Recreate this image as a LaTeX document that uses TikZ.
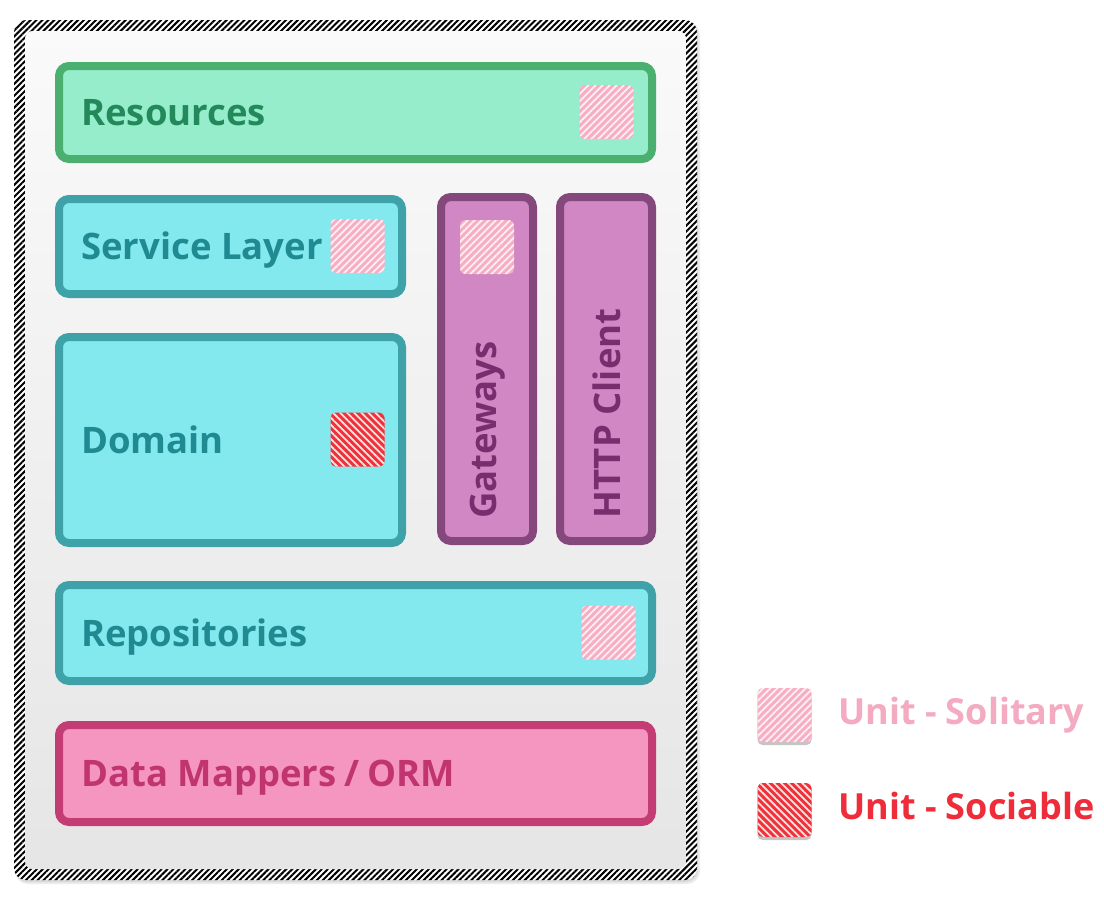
\documentclass[tikz,border=0pt]{standalone}
\usepackage{fontspec}
\setmainfont{Open Sans}
\usetikzlibrary{patterns.meta,shadows}
\definecolor{grnB}{HTML}{4AAF6F}
\definecolor{grnF}{HTML}{96EDCB}
\definecolor{grnT}{HTML}{23895A}
\definecolor{tealB}{HTML}{3FA2A8}
\definecolor{tealF}{HTML}{84E9EF}
\definecolor{tealT}{HTML}{1F8A91}
\definecolor{purB}{HTML}{85487D}
\definecolor{purF}{HTML}{D087C3}
\definecolor{purT}{HTML}{7A2D6E}
\definecolor{pnkB}{HTML}{C33D74}
\definecolor{pnkF}{HTML}{F496C0}
\definecolor{pnkT}{HTML}{C0356F}
\definecolor{solC}{HTML}{F7AEC4}
\definecolor{solT}{HTML}{F4ABC2}
\definecolor{socC}{HTML}{EE3239}
\definecolor{socT}{HTML}{EE2C3A}
\tikzset{
  layerbox/.style={draw=#1B, fill=#1F, line width=8pt, rounded corners=10pt, inner sep=0pt},
  lbl/.style={text=#1T, inner sep=0pt, anchor=base west, font=\fontsize{36.5}{40}\selectfont\bfseries},
  vlbl/.style={text=#1T, inner sep=0pt, anchor=west, rotate=90, font=\fontsize{36.5}{40}\selectfont\bfseries},
  solsq/.style={minimum size=54pt, inner sep=0pt, rounded corners=5pt, fill=solC,
    postaction={pattern={Lines[angle=45,distance=5pt,line width=1.8pt]}, pattern color=white!80!solC}},
  socsq/.style={minimum size=54pt, inner sep=0pt, rounded corners=5pt, fill=socC,
    postaction={pattern={Lines[angle=-45,distance=5pt,line width=1.8pt]}, pattern color=white!85!socC}},
  legsh/.style={drop shadow={shadow xshift=0pt, shadow yshift=-3pt, opacity=0.45}},
  legtxt/.style={inner sep=0pt, anchor=base west, font=\fontsize{36}{40}\selectfont\bfseries}
}
\begin{document}
\begin{tikzpicture}[x=1pt,y=-1pt]
\useasboundingbox (0,0) rectangle (1104,900);
\fill[white] (0,0) rectangle (1104,900);
% frame shadow
\fill[black, opacity=0.08, rounded corners=13pt] (15,22) rectangle (700,884);
\fill[black, opacity=0.08, rounded corners=12pt] (15,21) rectangle (698,882);
% frame
\fill[white, rounded corners=12pt] (14,20) rectangle (697,880);
\pattern[pattern={Lines[angle=45,distance=4.2pt,line width=2pt]}, pattern color=black, even odd rule]
  [rounded corners=12pt] (14,20) rectangle (697,880)
  [rounded corners=8pt] (25,31) rectangle (686,869);
\shade[top color=white!98!black, bottom color=black!10, rounded corners=8pt] (25,31) rectangle (686,869);
% layers
\node[layerbox=grn, minimum width=593pt, minimum height=93pt] (res) at (355.5,112.5) {};
\node[layerbox=teal, minimum width=343pt, minimum height=95pt] (svc) at (230.5,246.5) {};
\node[layerbox=teal, minimum width=343pt, minimum height=206pt] (dom) at (230.5,440) {};
\node[layerbox=pur, minimum width=92pt, minimum height=344pt] (gw) at (487,369) {};
\node[layerbox=pur, minimum width=92pt, minimum height=344pt] (http) at (606,369) {};
\node[layerbox=teal, minimum width=593pt, minimum height=96pt] (repo) at (355.5,633) {};
\node[layerbox=pnk, minimum width=593pt, minimum height=97pt] (dm) at (355.5,773.5) {};
% labels
\node[lbl=grn] (resL) at (81,125.5) {Resources};
\node[lbl=teal] (svcL) at (81,259.5) {Service Layer};
\node[lbl=teal] (domL) at (81,453) {Domain};
\node[lbl=teal] (repoL) at (81,646) {Repositories};
\node[lbl=pnk] (dmL) at (81,786.5) {Data Mappers\kern-1.5pt{} /\kern-1.5pt{} ORM};
\node[vlbl=pur] (gwL) at (487.5,519) {Gateways};
\node[vlbl=pur] (httpL) at (606.5,519) {HTTP Client};
% test markers
\node[solsq] (resS) at (606.5,112) {};
\node[solsq] (svcS) at (357.5,246) {};
\node[socsq] (domS) at (357.5,439.5) {};
\node[solsq] (gwS) at (487,247) {};
\node[solsq] (repoS) at (608.5,632.5) {};
% legend
\node[solsq, legsh] (legA) at (784.5,715) {};
\node[socsq, legsh] (legB) at (784.5,810) {};
\node[legtxt, text=solT] (legAT) at (838,724) {Unit - Solitary};
\node[legtxt, text=socT] (legBT) at (838,819) {Unit - Sociable};
\end{tikzpicture}
\end{document}
